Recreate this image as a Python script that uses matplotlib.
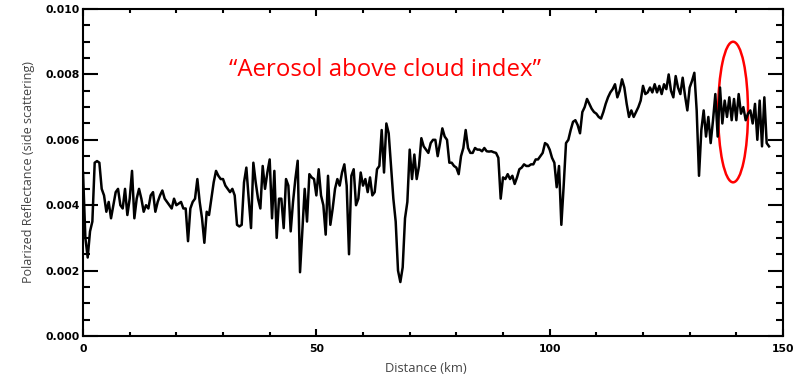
import matplotlib
matplotlib.use("Agg")
import matplotlib.pyplot as plt
from matplotlib.patches import Ellipse
from matplotlib.ticker import MultipleLocator
import numpy as np

# polarized reflectance along track, sampled every 0.5 km (units of 1e-3)
step_km = 0.5
refl = [
    5.0, 3.0, 2.4, 3.2, 3.5, 5.3, 5.35, 5.3, 4.5, 4.3,
    3.8, 4.1, 3.6, 4.0, 4.4, 4.5, 4.0, 3.9, 4.5, 3.7,
    4.2, 5.05, 3.6, 4.2, 4.5, 4.2, 3.8, 4.0, 3.9, 4.3,
    4.4, 3.8, 4.1, 4.3, 4.45, 4.2, 4.1, 4.0, 3.9, 4.2,
    4.0, 4.05, 4.1, 3.9, 3.9, 2.9, 3.9, 4.1, 4.2, 4.8,
    4.1, 3.6, 2.85, 3.8, 3.7, 4.2, 4.7, 5.05, 4.9, 4.8,
    4.8, 4.6, 4.5, 4.4, 4.5, 4.3, 3.4, 3.35, 3.4, 4.7,
    5.15, 4.2, 3.3, 5.3, 4.7, 4.2, 3.9, 5.2, 4.5, 5.0,
    5.4, 3.6, 5.05, 3.0, 4.2, 4.2, 3.3, 4.8, 4.6, 3.2,
    4.1, 4.8, 5.36, 1.95, 3.2, 4.5, 3.5, 4.95, 4.85, 4.8,
    4.3, 5.1, 4.3, 4.0, 3.1, 4.9, 3.4, 3.9, 4.5, 4.8,
    4.6, 5.0, 5.25, 4.6, 2.5, 4.9, 5.1, 4.0, 4.2, 5.0,
    4.6, 4.8, 4.4, 4.85, 4.3, 4.4, 5.1, 5.2, 6.3, 5.0,
    6.5, 6.2, 5.2, 4.2, 3.5, 2.0, 1.65, 2.1, 3.6, 4.1,
    5.7, 4.8, 5.55, 4.8, 5.2, 6.05, 5.8, 5.7, 5.6, 5.9,
    6.0, 6.0, 5.5, 5.9, 6.35, 6.1, 6.0, 5.3, 5.3, 5.2,
    5.15, 4.95, 5.5, 5.75, 6.3, 5.75, 5.6, 5.6, 5.75, 5.7,
    5.7, 5.65, 5.75, 5.65, 5.64, 5.65, 5.62, 5.6, 5.45, 4.2,
    4.85, 4.8, 4.95, 4.8, 4.9, 4.65, 4.85, 5.1, 5.15, 5.25,
    5.2, 5.2, 5.25, 5.25, 5.4, 5.4, 5.5, 5.6, 5.9, 5.85,
    5.7, 5.45, 5.3, 4.55, 5.2, 3.4, 4.6, 5.9, 6.0, 6.3,
    6.55, 6.6, 6.45, 6.2, 6.85, 7.0, 7.25, 7.1, 6.95, 6.85,
    6.8, 6.7, 6.65, 6.85, 7.1, 7.3, 7.45, 7.55, 7.7, 7.3,
    7.5, 7.85, 7.6, 7.1, 6.7, 6.9, 6.7, 6.85, 7.0, 7.2,
    7.65, 7.4, 7.45, 7.6, 7.45, 7.7, 7.45, 7.65, 7.4, 7.7,
    7.55, 8.0, 7.5, 7.3, 7.95, 7.6, 7.4, 7.9, 7.35, 6.9,
    7.6, 7.8, 8.05, 6.9, 4.9, 6.3, 6.9, 6.1, 6.7, 5.9,
    6.6, 7.4, 6.1, 7.6, 6.5, 7.2, 6.7, 7.3, 6.6, 7.25,
    6.6, 7.4, 6.8, 7.0, 6.6, 6.8, 6.9, 6.5, 7.1, 6.0,
    7.2, 5.8, 7.3, 5.9, 5.8,
]
refl = np.array(refl) * 1e-3
dist = np.arange(len(refl)) * step_km

xticks = [0, 50, 100, 150]
yticks = [0.000, 0.002, 0.004, 0.006, 0.008, 0.010]
ytick_labels = ["0.000", "0.002", "0.004", "0.006", "0.008", "0.010"]

fig = plt.figure(figsize=(7.93, 3.77), dpi=100)
ax = fig.add_axes([0.1047, 0.1088, 0.8827, 0.8672])

ax.plot(dist, refl, color="black", lw=1.8)

ax.set_xlim(0, 150)
ax.set_ylim(0, 0.010)
ax.set_xticks(xticks)
ax.set_xticklabels([str(t) for t in xticks])
ax.set_yticks(yticks)
ax.set_yticklabels(ytick_labels)
ax.xaxis.set_minor_locator(MultipleLocator(10))
ax.yaxis.set_minor_locator(MultipleLocator(0.0005))

for sp in ax.spines.values():
    sp.set_linewidth(1.5)

ax.xaxis.set_tick_params(which="major", direction="in", length=5, width=1.5,
                         top=True, pad=6)
ax.xaxis.set_tick_params(which="minor", direction="in", length=3, width=1.5,
                         top=True)
ax.yaxis.set_tick_params(which="major", direction="in", length=10.5, width=1.5,
                         right=True, pad=2)
ax.yaxis.set_tick_params(which="minor", direction="in", length=5, width=1.5,
                         right=True)
for lab in ax.get_xticklabels() + ax.get_yticklabels():
    lab.set_fontweight("bold")
    lab.set_fontsize(7.8)

ax.set_xlabel("Distance (km)", fontsize=9.3, family="Open Sans", color="#444444",
              labelpad=2)
ax.xaxis.set_label_coords(0.49, -0.08)
ax.set_ylabel("Polarized Reflectance (side scattering)", fontsize=9,
              family="Open Sans", color="#444444", labelpad=8)

ax.text(64.7, 0.00815, "\u201cAerosol above cloud index\u201d", color="red",
        fontsize=17.3, family="Open Sans", ha="center", va="center")
ax.add_patch(Ellipse((139.3, 0.00685), 6.4, 0.0043, fill=False,
                     edgecolor="red", lw=1.8))

fig.savefig("out.png", dpi=100)
